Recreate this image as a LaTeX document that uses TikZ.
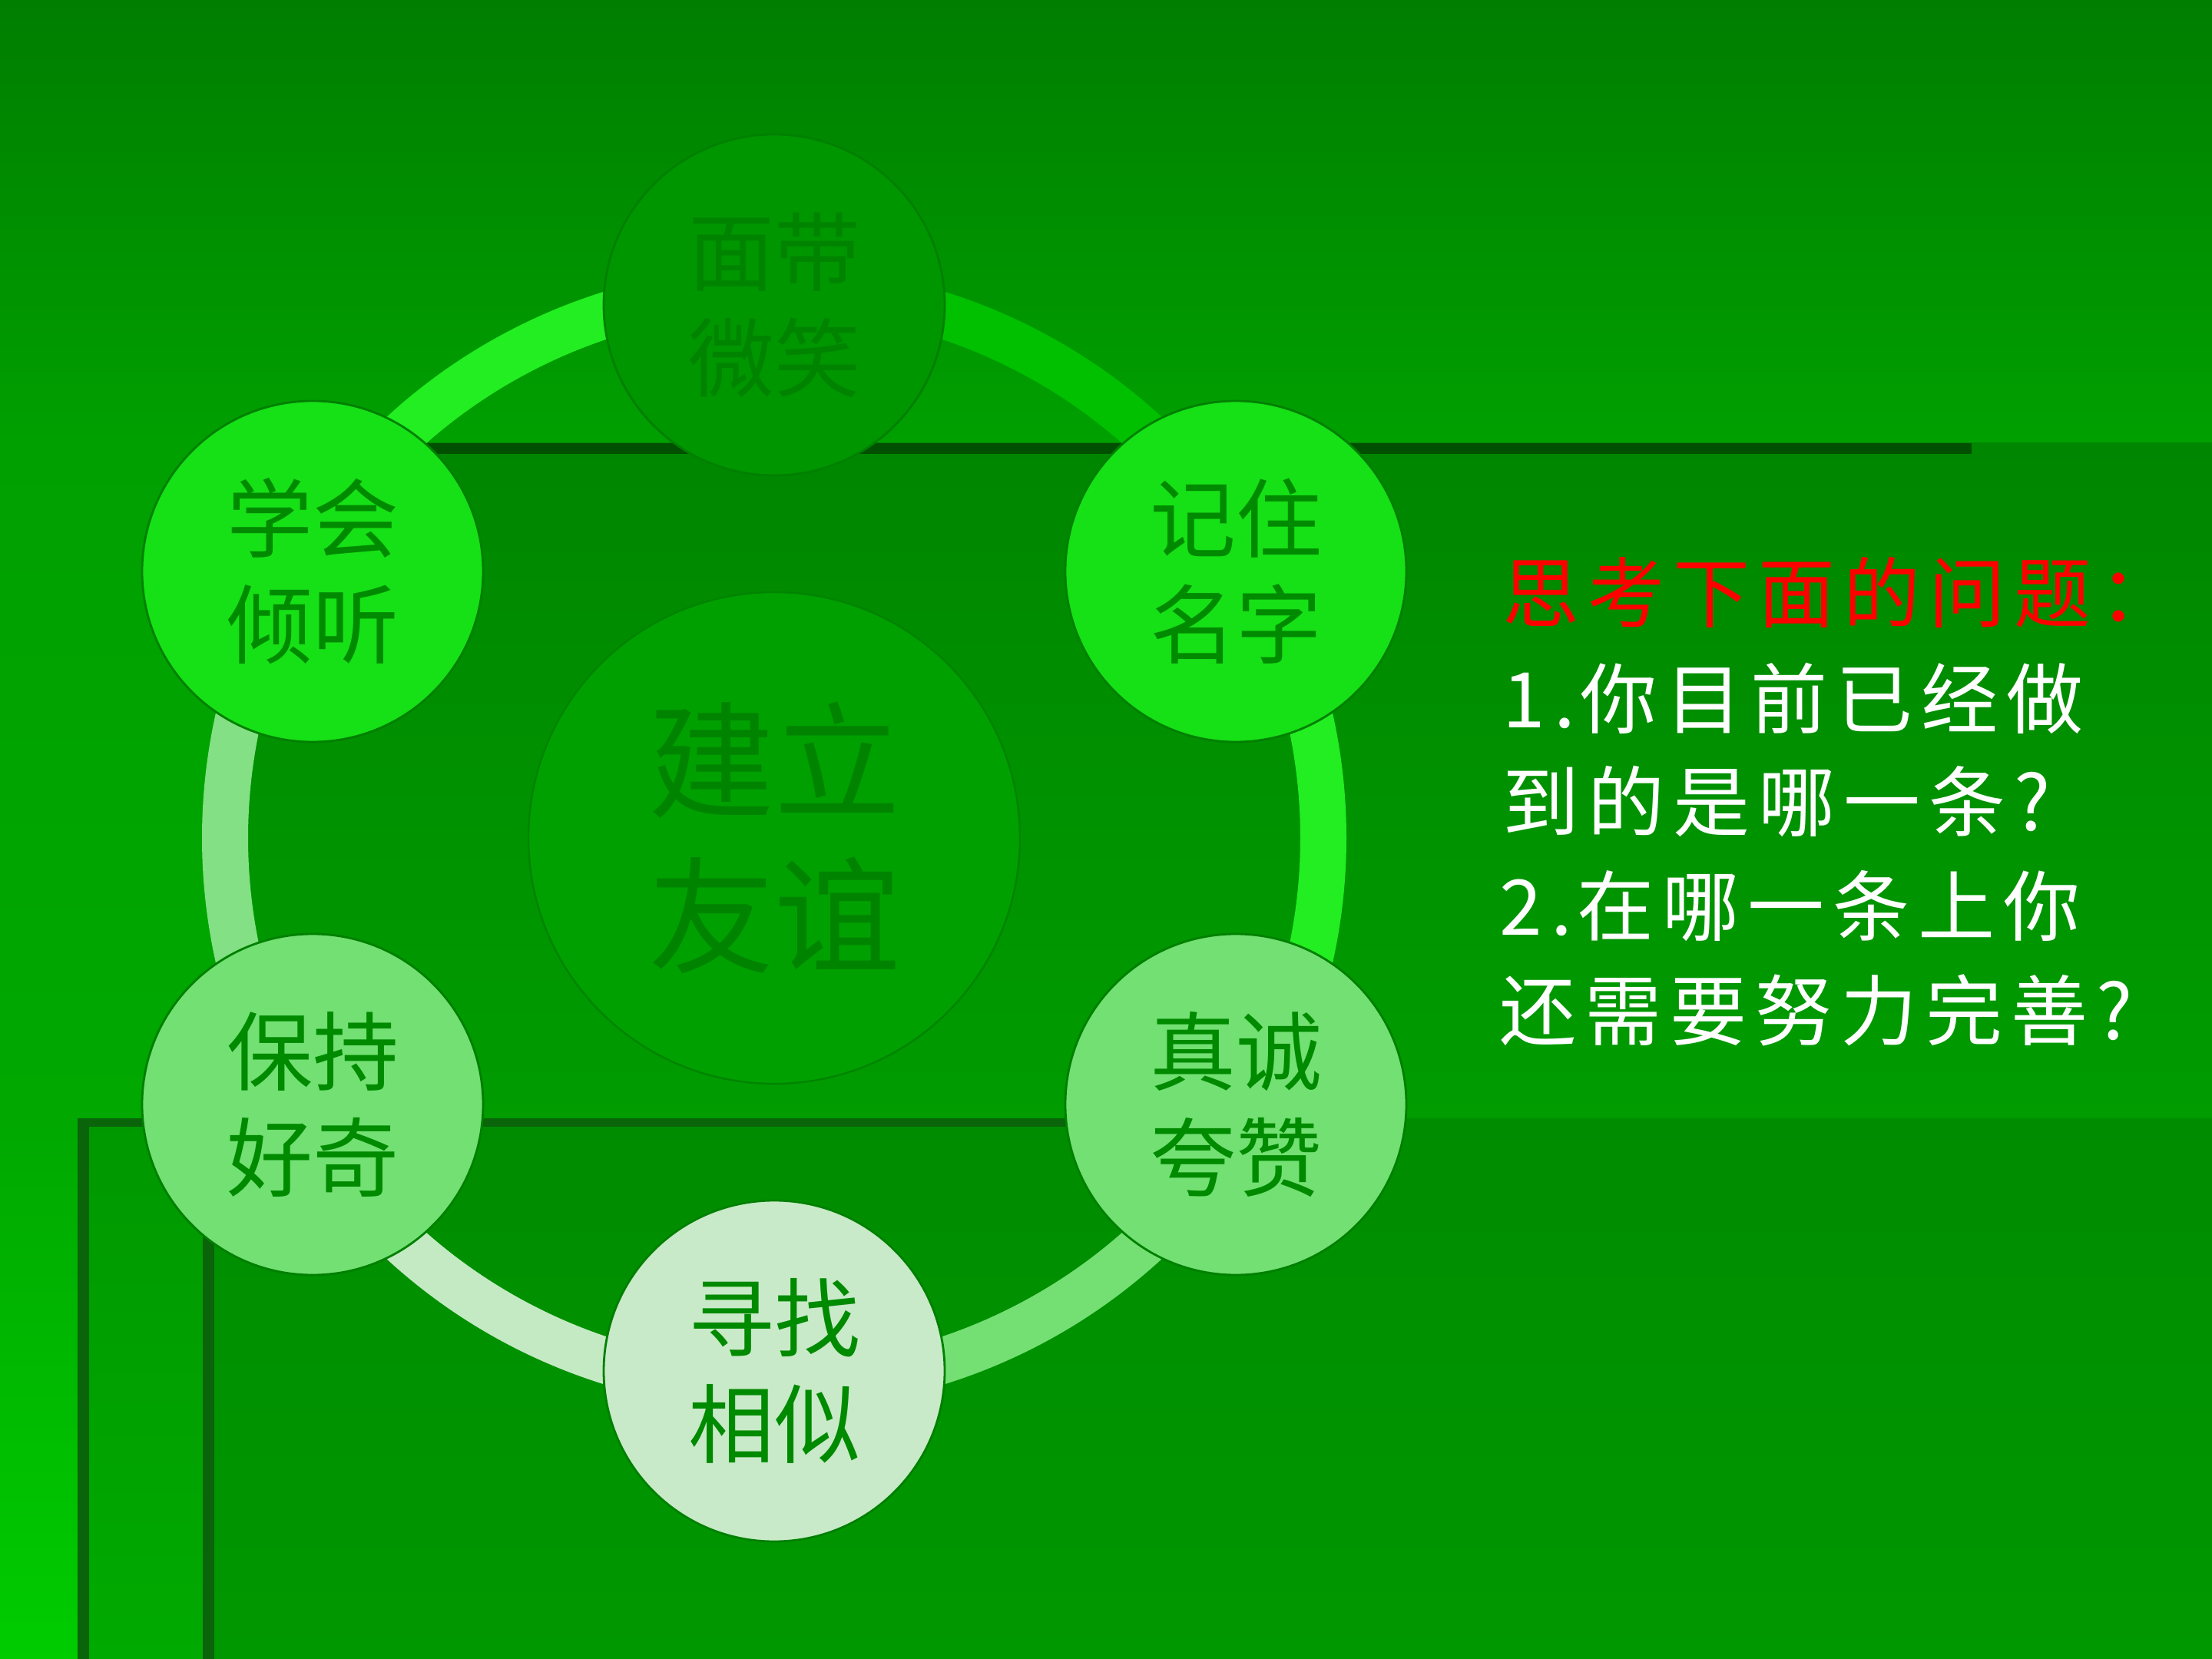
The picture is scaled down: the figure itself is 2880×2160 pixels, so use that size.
\documentclass[tikz,border=0pt]{standalone}
\usepackage{fontspec}
\newfontfamily\cjk{Noto Sans CJK SC}
\newfontfamily\cjksp[LetterSpace=11]{Noto Sans CJK SC}
\usetikzlibrary{calc}
\definecolor{bgtop}{HTML}{007E00}
\definecolor{bgmid}{HTML}{00A000}
\definecolor{bgleft}{HTML}{00A800}
\definecolor{bgbot}{HTML}{00CC00}
\definecolor{frAtop}{HTML}{008600}
\definecolor{frAbot}{HTML}{009C00}
\definecolor{frBtop}{HTML}{009800}
\definecolor{frBbot}{HTML}{00AA00}
\definecolor{frCtop}{HTML}{008C00}
\definecolor{frCbot}{HTML}{009800}
\definecolor{barcol}{HTML}{005000}
\definecolor{barcolB}{HTML}{0A640A}
\definecolor{ringA}{HTML}{22EE22}
\definecolor{ringB}{HTML}{00C000}
\definecolor{ringC}{HTML}{74E074}
\definecolor{ringD}{HTML}{C4EAC4}
\definecolor{ringE}{HTML}{84E084}
\definecolor{fillDark}{HTML}{009600}
\definecolor{fillBright}{HTML}{16E016}
\definecolor{fillMid}{HTML}{72E072}
\definecolor{fillLight}{HTML}{C8EAC8}
\definecolor{fillCenter}{HTML}{00A000}
\definecolor{edgecol}{HTML}{008000}
\definecolor{txtcol}{HTML}{008A00}
\definecolor{txtdim}{HTML}{008400}
\definecolor{qred}{HTML}{FF0000}
\begin{document}
\begin{tikzpicture}[x=0.25pt,y=0.25pt,
  sat/.style={circle, minimum size=111pt, inner sep=0pt, draw=edgecol, line width=0.7pt,
    text=txtcol, align=center, font=\cjk\fontsize{28pt}{34.5pt}\selectfont},
  hub/.style={circle, minimum size=160pt, inner sep=0pt, draw=txtdim, line width=0.6pt,
    fill=fillCenter, text=txtdim, align=center, font=\cjk\fontsize{41pt}{50.5pt}\selectfont},
  ringseg/.style={line width=15pt},
  qtext/.style={anchor=west, inner sep=0pt, text=white, font=\cjksp\fontsize{25pt}{30pt}\selectfont}]
\useasboundingbox (0,0) rectangle (2880,-2160);
% background layers
\shade[top color=bgtop, bottom color=bgmid] (0,0) rectangle (2880,-577);
\shade[top color=bgmid, bottom color=bgleft] (0,-577) rectangle (2880,-1456);
\shade[top color=bgleft, bottom color=bgbot] (0,-1456) rectangle (2880,-2160);
% frame A
\shade[top color=frAtop, bottom color=frAbot] (300,-577) rectangle (2880,-1456);
\fill[barcol] (300,-577) rectangle (2567,-591);
% frame B
\shade[top color=frBtop, bottom color=frBbot] (101,-1456) rectangle (2880,-2160);
% frame C
\shade[top color=frCtop, bottom color=frCbot] (266,-1456) rectangle (2880,-2160);
\fill[barcolB] (101,-1456) rectangle (1500,-1467);
\fill[barcolB] (101,-1456) rectangle (116,-2160);
\fill[barcolB] (264,-1600) rectangle (279,-2160);
% ring
\coordinate (C) at (1008,-1091);
\def\R{178.75pt}
\draw[ringseg, draw=ringA] ($(C)+(150:\R)$) arc[start angle=150, end angle=90, radius=\R];
\draw[ringseg, draw=ringB] ($(C)+(90:\R)$) arc[start angle=90, end angle=30, radius=\R];
\draw[ringseg, draw=ringA] ($(C)+(30:\R)$) arc[start angle=30, end angle=-30, radius=\R];
\draw[ringseg, draw=ringC] ($(C)+(-30:\R)$) arc[start angle=-30, end angle=-90, radius=\R];
\draw[ringseg, draw=ringD] ($(C)+(-90:\R)$) arc[start angle=-90, end angle=-150, radius=\R];
\draw[ringseg, draw=ringE] ($(C)+(-150:\R)$) arc[start angle=-150, end angle=-210, radius=\R];
% hub
\node[hub] (hub) at (C) {建立\\友谊};
% satellites
\node[sat, fill=fillDark, text=txtdim] (smile) at (1008,-397) {面带\\微笑};
\node[sat, fill=fillBright] (name) at (1609,-744) {记住\\名字};
\node[sat, fill=fillMid] (praise) at (1609,-1438) {真诚\\夸赞};
\node[sat, fill=fillLight] (similar) at (1008,-1785) {寻找\\相似};
\node[sat, fill=fillMid] (curious) at (407,-1438) {保持\\好奇};
\node[sat, fill=fillBright] (listen) at (407,-744) {学会\\倾听};
% questions
\node[qtext, text=qred] (q0) at (1956,-771) {思考下面的问题：};
\node[qtext] (q1) at (1956,-909) {1.\kern1.5pt 你目前已经做};
\node[qtext] (q2) at (1956,-1043) {到的是哪一条?};
\node[qtext] (q3) at (1952,-1179) {2.\kern1.5pt 在哪一条上你};
\node[qtext] (q4) at (1952,-1315) {还需要努力完善?};
\end{tikzpicture}
\end{document}
